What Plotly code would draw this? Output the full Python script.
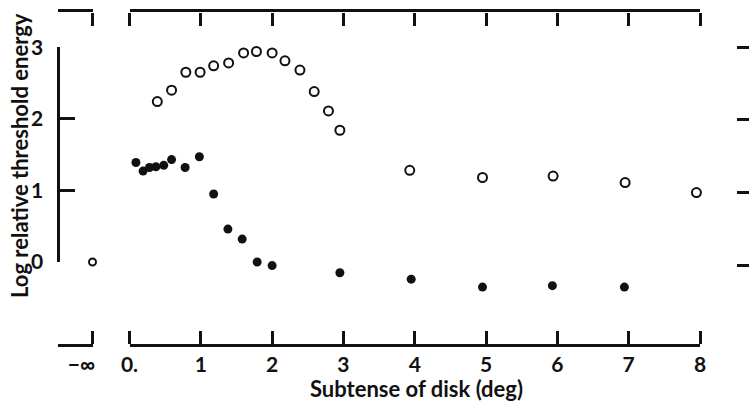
import plotly.graph_objects as go

W, H = 749, 401

# ---- data ----
open_x = [0.39, 0.59, 0.79, 0.99, 1.18, 1.39, 1.60, 1.78, 2.00, 2.18, 2.39, 2.59, 2.79, 2.95, 3.93, 4.95, 5.94, 6.95, 7.95]
open_y = [2.24, 2.40, 2.65, 2.65, 2.74, 2.78, 2.92, 2.94, 2.92, 2.81, 2.68, 2.38, 2.11, 1.84, 1.28, 1.18, 1.20, 1.11, 0.97]
filled_x = [0.09, 0.19, 0.28, 0.37, 0.48, 0.59, 0.78, 0.98, 1.18, 1.38, 1.58, 1.79, 2.00, 2.95, 3.95, 4.95, 5.93, 6.94]
filled_y = [1.39, 1.27, 1.32, 1.33, 1.35, 1.43, 1.32, 1.47, 0.95, 0.46, 0.32, 0.00, -0.05, -0.15, -0.24, -0.35, -0.33, -0.35]
inf_x = [0.0]      # position of "−∞" on the break segment
inf_y = [0.0]
x_ticks = [0, 1, 2, 3, 4, 5, 6, 7, 8]
x_ticktext = ["0.", "1", "2", "3", "4", "5", "6", "7", "8"]
y_ticks = [0, 1, 2, 3]

FONT = "Lato"
BLACK = "#111111"
CLEAR = "rgba(0,0,0,0)"


def px(x):
    return x / W


def py(y):
    return 1 - y / H


fig = go.Figure()

fig.add_trace(go.Scatter(x=open_x, y=open_y, mode="markers", xaxis="x", yaxis="y",
                         marker=dict(symbol="circle-open", size=9, color=BLACK, line=dict(width=2, color=BLACK)),
                         cliponaxis=False, showlegend=False))
fig.add_trace(go.Scatter(x=filled_x, y=filled_y, mode="markers", xaxis="x", yaxis="y",
                         marker=dict(symbol="circle", size=9, color=BLACK),
                         cliponaxis=False, showlegend=False))
fig.add_trace(go.Scatter(x=inf_x, y=inf_y, mode="markers", xaxis="x2", yaxis="y",
                         marker=dict(symbol="circle-open", size=7, color=BLACK, line=dict(width=2, color=BLACK)),
                         cliponaxis=False, showlegend=False))
# carriers for decorative axes (frame ticks, left axis, neighbouring figure's ticks)
for xa, ya in [("x", "y2"), ("x", "y3"), ("x3", "y"), ("x4", "y"), ("x5", "y"), ("x6", "y")]:
    fig.add_trace(go.Scatter(x=[None], y=[None], xaxis=xa, yaxis=ya, showlegend=False, hoverinfo="skip"))

ybot, ytop = 344, 12
y0pix, yscale = 262, 71.6

tickfont = dict(family=FONT, size=21, color=BLACK, weight="bold")
titlefont = dict(family=FONT, size=22, color=BLACK, weight="bold")

main_dom = [px(129.5), px(700)]
inf_dom = [px(57.5), px(92.5)]


def frame_ticks(domain, rng, vals, pos, side):
    return dict(domain=domain, range=rng, anchor="free", position=pos, side=side,
                automargin=False, showline=False, showgrid=False, zeroline=False,
                ticks="outside", ticklen=13, tickwidth=3, tickcolor=BLACK,
                tickvals=vals, showticklabels=False)


fig.update_layout(
    width=W, height=H,
    margin=dict(l=0, r=0, t=0, b=0, autoexpand=False),
    paper_bgcolor="white", plot_bgcolor=CLEAR,
    xaxis=dict(domain=main_dom, range=[0, 8], anchor="y", automargin=False,
               showline=True, linewidth=3, linecolor=BLACK, mirror=True,
               ticks="", tickvals=x_ticks, ticktext=x_ticktext, tickfont=tickfont,
               ticklabelstandoff=0, showgrid=False, zeroline=False),
    xaxis2=dict(domain=inf_dom, range=[-1, 0], anchor="y", automargin=False,
                showline=True, linewidth=3, linecolor=BLACK, mirror=True,
                ticks="", tickvals=[0], ticktext=["−∞"], tickfont=tickfont,
                ticklabelstandoff=0, ticklabelshift=-11, showgrid=False, zeroline=False),
    xaxis3=frame_ticks(main_dom, [0, 8], x_ticks, py(ybot), "top"),
    xaxis4=frame_ticks(main_dom, [0, 8], x_ticks, py(ytop), "bottom"),
    xaxis5=frame_ticks(inf_dom, [-1, 0], [0], py(ybot), "top"),
    xaxis6=frame_ticks(inf_dom, [-1, 0], [0], py(ytop), "bottom"),
    yaxis=dict(domain=[py(ybot), py(ytop)],
               range=[(y0pix - ybot) / yscale, (y0pix - ytop) / yscale],
               anchor="x", visible=False, automargin=False, showgrid=False, zeroline=False),
    yaxis2=dict(domain=[py(262), py(262 - 3 * yscale)], range=[0, 3],
                anchor="free", position=px(57.5), side="left", automargin=False,
                showline=True, linewidth=3, linecolor=BLACK,
                ticks="inside", ticklen=15, tickwidth=3, tickcolor=BLACK,
                tickvals=y_ticks, tickfont=tickfont, ticklabelstandoff=9,
                showgrid=False, zeroline=False),
    yaxis3=dict(domain=[py(265), py(47.3)], range=[0, 3],
                anchor="free", position=1.0, side="left", automargin=False,
                showline=False, ticks="outside", ticklen=12, tickwidth=3, tickcolor=BLACK,
                tickvals=y_ticks, showticklabels=False,
                showgrid=False, zeroline=False),
    annotations=[
        dict(text="Subtense of disk (deg)", x=px(416), y=py(388), xref="paper", yref="paper",
             showarrow=False, xanchor="center", yanchor="middle", font=titlefont),
        dict(text="Log relative threshold energy", x=px(19), y=py(156), xref="paper", yref="paper",
             showarrow=False, textangle=-90, xanchor="center", yanchor="middle", font=titlefont),
    ],
)

fig.write_html("out.html", config={"displayModeBar": False},
               post_script="document.body.style.margin='0';")
